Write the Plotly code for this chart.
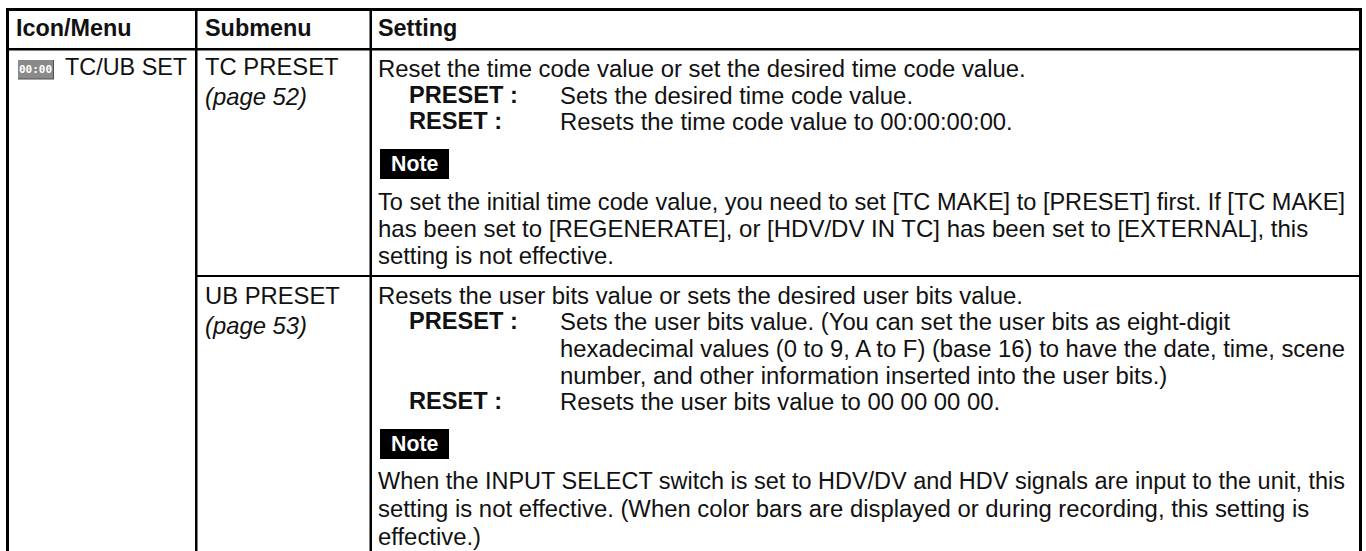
import plotly.graph_objects as go

FONT = "Liberation Sans"
SIZE = 23.4

header_labels = ["Icon/Menu", "Submenu", "Setting"]
menu_label = "TC/UB SET"
icon_label = "00:00"
submenu_labels = ["TC PRESET", "<i>(page 52)</i>", "UB PRESET", "<i>(page 53)</i>"]
note_label = "Note"

plain_lines = [
    (378, 68, "Reset the time code value or set the desired time code value."),
    (560, 95, "Sets the desired time code value."),
    (560, 121, "Resets the time code value to 00:00:00:00."),
    (378, 202, "To set the initial time code value, you need to set [TC MAKE] to [PRESET] first. If [TC MAKE]"),
    (378, 228, "has been set to [REGENERATE], or [HDV/DV IN TC] has been set to [EXTERNAL], this"),
    (378, 255, "setting is not effective."),
    (378, 295, "Resets the user bits value or sets the desired user bits value."),
    (560, 321, "Sets the user bits value. (You can set the user bits as eight-digit"),
    (560, 348, "hexadecimal values (0 to 9, A to F) (base 16) to have the date, time, scene"),
    (560, 375, "number, and other information inserted into the user bits.)"),
    (560, 401, "Resets the user bits value to 00 00 00 00."),
    (378, 481, "When the INPUT SELECT switch is set to HDV/DV and HDV signals are input to the unit, this"),
    (378, 508, "setting is not effective. (When color bars are displayed or during recording, this setting is"),
    (378, 536, "effective.)"),
]
plain_sizes = [23.88, 23.88, 23.82, 23.56, 24.0, 23.88, 23.88, 23.82, 23.82, 23.91, 23.85, 23.47, 23.88, 23.88]
bold_lines = [(409, 95, "PRESET :"), (409, 121, "RESET :"), (409, 321, "PRESET :"), (409, 401, "RESET :")]
header_x = [16, 205, 378]
submenu_pos = [(205, 66), (205, 96), (205, 295), (205, 325)]
note_boxes = [(380, 149, 449, 179), (380, 429, 449, 459)]
rules = [
    (6, 8, 1362, 11), (6, 48, 1362, 50.5), (196, 275, 1362, 277),
    (6, 8, 9, 551), (195, 8, 197.5, 551), (369.5, 8, 372, 551), (1359, 8, 1362, 551),
]

shapes = []
for x0, y0, x1, y1 in rules:
    shapes.append(dict(type="rect", x0=x0, y0=y0, x1=x1, y1=y1, fillcolor="#000", line_width=0))
for x0, y0, x1, y1 in note_boxes:
    shapes.append(dict(type="rect", x0=x0, y0=y0, x1=x1, y1=y1, fillcolor="#000", line_width=0))
shapes.append(dict(type="rect", x0=18, y0=60, x1=54, y1=79.5, fillcolor="#505050", line_width=0))
shapes.append(dict(type="rect", x0=18, y0=60, x1=53, y1=78.5, fillcolor="#8a8a8a", line_width=0))

def txt(x, y, s, bold=False, color="#111", size=SIZE, anchor="left", family=FONT):
    return dict(x=x, y=y, text=f"<b>{s}</b>" if bold else s, showarrow=False, xanchor=anchor,
                yanchor="middle", align="left", borderpad=0, borderwidth=0,
                font=dict(family=family, size=size, color=color))

ann = []
for x, s in zip(header_x, header_labels):
    ann.append(txt(x, 28, s, bold=True))
ann.append(txt(65, 67, menu_label))
ann.append(txt(35.5, 69.5, icon_label, bold=True, color="#fff", size=11, anchor="center", family="DejaVu Sans Mono"))
for (x, y), s in zip(submenu_pos, submenu_labels):
    ann.append(txt(x, y, s, size=23.8))
for (x, y, s), z in zip(plain_lines, plain_sizes):
    ann.append(txt(x, y, s, size=z))
for x, y, s in bold_lines:
    ann.append(txt(x, y, s, bold=True, size=23.6))
for x0, y0, x1, y1 in note_boxes:
    ann.append(txt((x0 + x1) / 2 - 0.5, (y0 + y1) / 2, note_label, bold=True, color="#fff", size=21.3, anchor="center"))

fig = go.Figure()
fig.update_layout(
    width=1366, height=551, margin=dict(l=0, r=0, t=0, b=0),
    paper_bgcolor="#fff", plot_bgcolor="#fff", showlegend=False,
    xaxis=dict(range=[0, 1366], visible=False, fixedrange=True),
    yaxis=dict(range=[551, 0], visible=False, fixedrange=True),
    shapes=shapes, annotations=ann,
)
fig.write_html("out.html", config=dict(displayModeBar=False),
               post_script="document.body.style.margin='0';document.body.style.overflow='hidden';")
